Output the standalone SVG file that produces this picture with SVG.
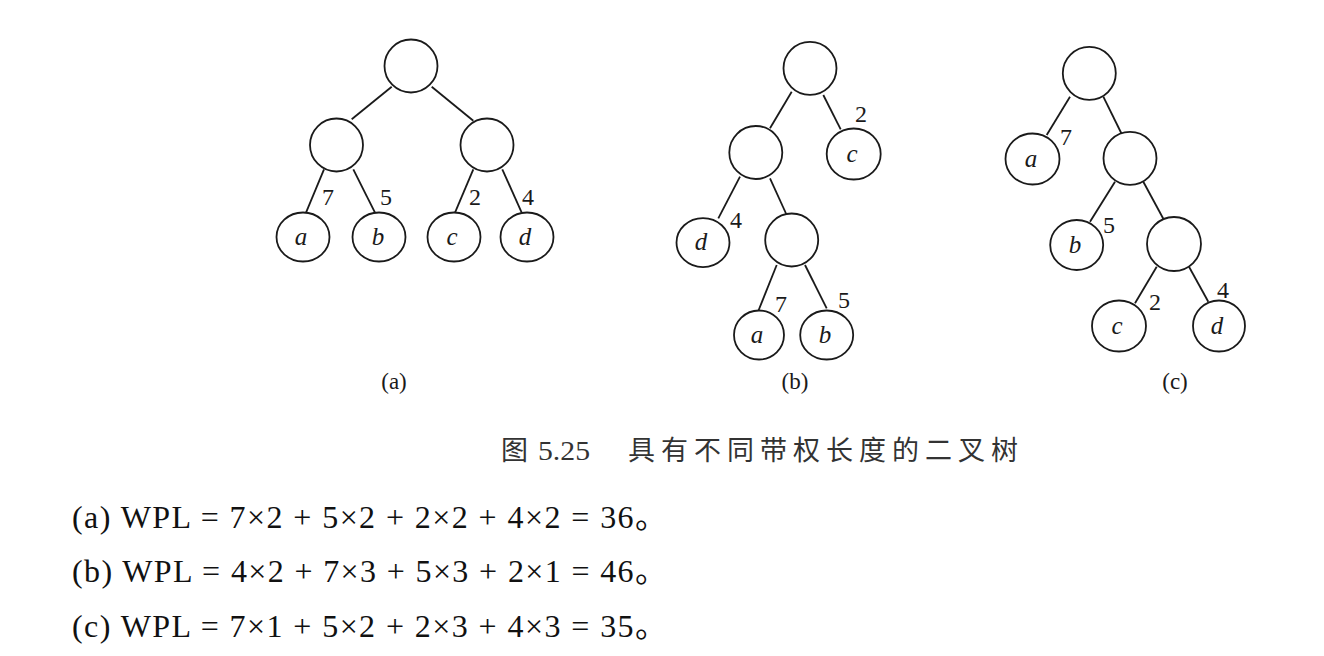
<svg xmlns="http://www.w3.org/2000/svg" width="1324" height="656" viewBox="0 0 1324 656">
<style>
.edge{stroke:#1a1a1a;stroke-width:1.8;fill:none}
.nd{fill:#fff;stroke:#1a1a1a;stroke-width:1.8}
.lf{font-family:"Liberation Serif","Times New Roman",serif;font-style:italic;font-size:25px;fill:#1a1a1a;text-anchor:middle}
.w{font-family:"Liberation Serif","Times New Roman",serif;font-size:24px;fill:#1a1a1a;text-anchor:middle}
.sub{font-family:"Liberation Serif","Times New Roman",serif;font-size:23px;fill:#1a1a1a;text-anchor:middle}
.cap{font-family:"Liberation Serif","Noto Sans CJK SC",serif;font-size:27px;fill:#333}
.f{font-family:"Liberation Serif","Times New Roman","Noto Sans CJK SC",serif;font-size:32px;fill:#111}
</style>
<rect width="1324" height="656" fill="#fff"/>
<g id="connectors">
<line class="edge" x1="391.7" y1="86.7" x2="351.7" y2="119.3"/>
<line class="edge" x1="431.7" y1="86.7" x2="473.3" y2="120.7"/>
<line class="edge" x1="324" y1="169.3" x2="306" y2="212.7"/>
<line class="edge" x1="353.3" y1="169.3" x2="375" y2="212.7"/>
<line class="edge" x1="473.3" y1="169.3" x2="455" y2="212.7"/>
<line class="edge" x1="502.3" y1="169.3" x2="521.7" y2="212.7"/>
<line class="edge" x1="791.7" y1="91.7" x2="770" y2="128.3"/>
<line class="edge" x1="823.3" y1="95" x2="840.7" y2="129.3"/>
<line class="edge" x1="740" y1="176.7" x2="718.3" y2="218.3"/>
<line class="edge" x1="770" y1="178.3" x2="786.7" y2="215"/>
<line class="edge" x1="776.7" y1="265" x2="758.3" y2="311"/>
<line class="edge" x1="805" y1="265" x2="826.7" y2="308.3"/>
<line class="edge" x1="1070" y1="96.7" x2="1046.7" y2="135"/>
<line class="edge" x1="1103.3" y1="96.7" x2="1121.7" y2="134"/>
<line class="edge" x1="1115" y1="181.7" x2="1090" y2="221.7"/>
<line class="edge" x1="1143.3" y1="181.7" x2="1164" y2="220"/>
<line class="edge" x1="1156.7" y1="266.7" x2="1135" y2="303.3"/>
<line class="edge" x1="1189" y1="266.7" x2="1208.3" y2="301.7"/>
</g>
<g id="a-root"><circle class="nd" cx="411" cy="66" r="26.5"/></g>
<g id="a-l"><circle class="nd" cx="336.5" cy="145" r="26.5"/></g>
<g id="a-r"><circle class="nd" cx="487" cy="145" r="26.5"/></g>
<g id="a-a"><ellipse class="nd" cx="303" cy="237" rx="26.5" ry="24.5"/><text class="lf" x="301" y="245">a</text></g>
<g id="a-b"><ellipse class="nd" cx="379" cy="237" rx="26.5" ry="24.5"/><text class="lf" x="378" y="245">b</text></g>
<g id="a-c"><ellipse class="nd" cx="454" cy="237" rx="26.5" ry="24.5"/><text class="lf" x="452" y="245">c</text></g>
<g id="a-d"><ellipse class="nd" cx="527" cy="237" rx="26.5" ry="24.5"/><text class="lf" x="525" y="245">d</text></g>
<g id="a-weights"><text class="w" x="328" y="205">7</text><text class="w" x="386" y="205">5</text><text class="w" x="475" y="205">2</text><text class="w" x="528" y="205">4</text></g>
<g id="b-root"><circle class="nd" cx="810" cy="68.3" r="26.5"/></g>
<g id="b-l1"><circle class="nd" cx="755.8" cy="152.5" r="26.5"/></g>
<g id="b-c"><ellipse class="nd" cx="853.7" cy="154" rx="27" ry="25.5"/><text class="lf" x="852" y="162">c</text></g>
<g id="b-d"><ellipse class="nd" cx="703" cy="242.6" rx="26.5" ry="24.5"/><text class="lf" x="701" y="250">d</text></g>
<g id="b-i2"><circle class="nd" cx="791.7" cy="240" r="26.5"/></g>
<g id="b-a"><ellipse class="nd" cx="759" cy="335" rx="25" ry="24.5"/><text class="lf" x="757" y="343">a</text></g>
<g id="b-b"><ellipse class="nd" cx="826.7" cy="335" rx="26.5" ry="24.5"/><text class="lf" x="825" y="343">b</text></g>
<g id="b-weights"><text class="w" x="861" y="122">2</text><text class="w" x="736" y="228">4</text><text class="w" x="781" y="312">7</text><text class="w" x="844" y="308">5</text></g>
<g id="c-root"><circle class="nd" cx="1089.3" cy="73.3" r="26.5"/></g>
<g id="c-a"><ellipse class="nd" cx="1032.5" cy="159" rx="27" ry="25.5"/><text class="lf" x="1031" y="167">a</text></g>
<g id="c-i1"><circle class="nd" cx="1130" cy="158.3" r="26.5"/></g>
<g id="c-b"><ellipse class="nd" cx="1076.7" cy="245" rx="26.5" ry="25"/><text class="lf" x="1075" y="253">b</text></g>
<g id="c-i2"><circle class="nd" cx="1174" cy="244" r="27"/></g>
<g id="c-c"><ellipse class="nd" cx="1119" cy="326" rx="27" ry="25.5"/><text class="lf" x="1117" y="334">c</text></g>
<g id="c-d"><ellipse class="nd" cx="1219" cy="326" rx="26" ry="25.5"/><text class="lf" x="1217" y="334">d</text></g>
<g id="c-weights"><text class="w" x="1066" y="145">7</text><text class="w" x="1109" y="233">5</text><text class="w" x="1155" y="310">2</text><text class="w" x="1223" y="298">4</text></g>
<g id="sublabels"><text class="sub" x="394" y="389">(a)</text><text class="sub" x="795" y="389">(b)</text><text class="sub" x="1175" y="389">(c)</text></g>
<g id="caption">
<text class="cap" x="501" y="460">图</text>
<text class="cap" x="538" y="460" font-size="28" textLength="52" lengthAdjust="spacingAndGlyphs">5.25</text>
<text class="cap" x="628" y="460" textLength="390" lengthAdjust="spacing">具有不同带权长度的二叉树</text>
</g>
<g id="formulas">
<text class="f" x="72" y="528" textLength="595" lengthAdjust="spacing">(a) WPL = 7×2 + 5×2 + 2×2 + 4×2 = 36。</text>
<text class="f" x="72" y="582" textLength="595" lengthAdjust="spacing">(b) WPL = 4×2 + 7×3 + 5×3 + 2×1 = 46。</text>
<text class="f" x="72" y="637" textLength="595" lengthAdjust="spacing">(c) WPL = 7×1 + 5×2 + 2×3 + 4×3 = 35。</text>
</g>
</svg>
